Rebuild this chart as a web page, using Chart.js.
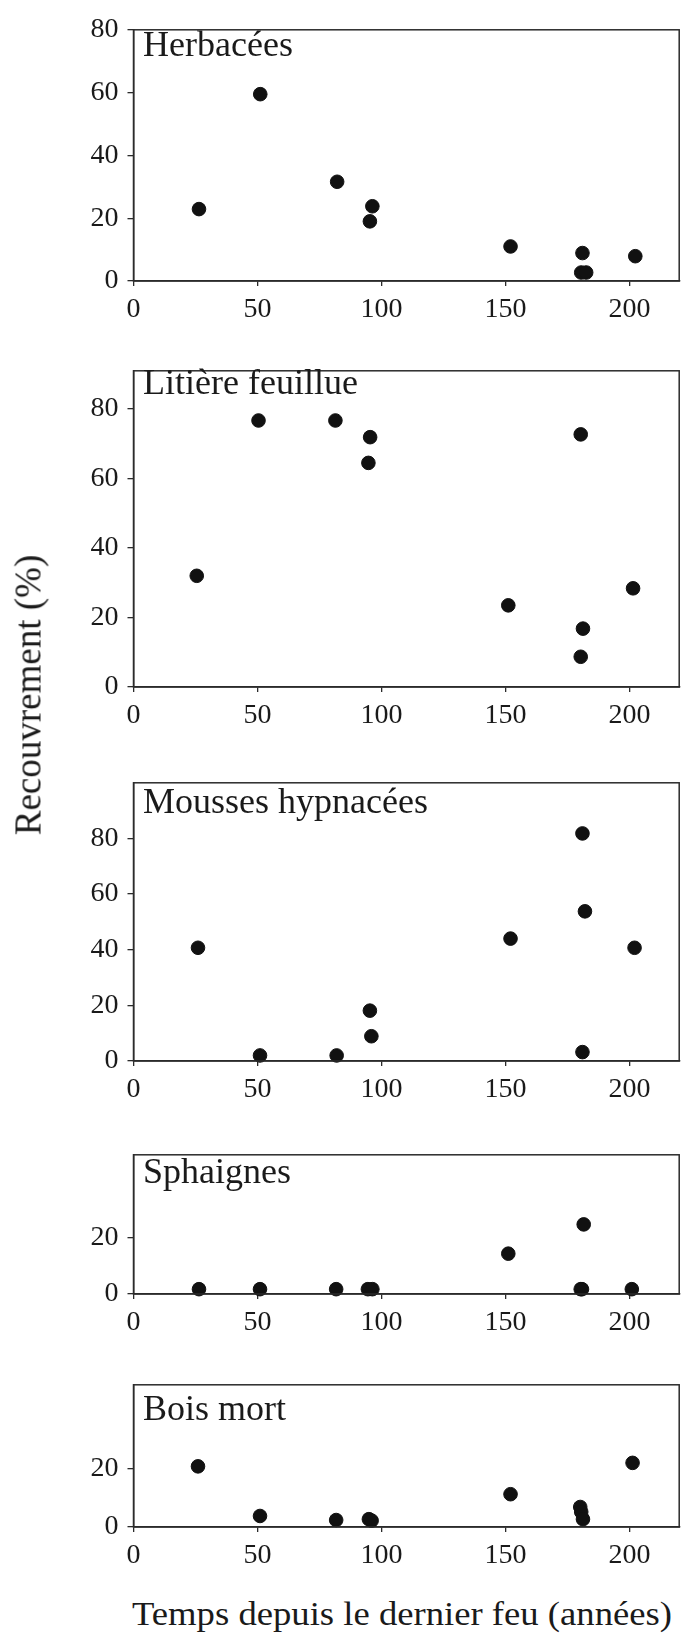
<!DOCTYPE html>
<html>
<head>
<meta charset="utf-8">
<script src="https://cdn.jsdelivr.net/npm/chart.js@4/dist/chart.umd.min.js"></script>
<style>
html,body{margin:0;padding:0;background:#fff;}
#wrap{position:relative;width:687px;height:1638px;overflow:hidden;background:#fff;}
#wrap canvas{position:absolute;left:0;}
.lbl{position:absolute;font-family:"Liberation Serif","Times New Roman",serif;color:#1a1a1a;white-space:nowrap;line-height:1;}
</style>
</head>
<body>
<div id="wrap"></div>
<script>
// ---------- data ----------
const panelTitles = ["Herbacées", "Litière feuillue", "Mousses hypnacées", "Sphaignes", "Bois mort"];
const xAxisTitle = "Temps depuis le dernier feu (années)";
const yAxisTitle = "Recouvrement (%)";

const xTicks = [0, 50, 100, 150, 200];
const yTicksTall = [0, 20, 40, 60, 80];
const yTicksShort = [0, 20];

const herbX = [26.4, 51.1, 82.1, 96.3, 95.3, 152, 181, 180.5, 182.5, 202.3];
const herbY = [22.9, 59.5, 31.6, 23.8, 19.0, 11.0, 8.9, 2.7, 2.7, 7.9];

const litX = [25.5, 50.4, 81.4, 95.4, 94.7, 151.1, 180.3, 181.2, 180.3, 201.4];
const litY = [32.0, 76.7, 76.7, 71.9, 64.5, 23.5, 72.7, 16.8, 8.7, 28.4];

const mousX = [26.0, 51.0, 81.9, 95.3, 95.9, 152, 181, 182, 181, 202];
const mousY = [40.7, 2.0, 2.0, 18.1, 8.9, 44.0, 81.8, 53.8, 3.2, 40.7];

const sphX = [26.4, 51.0, 81.7, 94.5, 96.3, 151.1, 181.5, 180.3, 180.8, 200.9];
const sphY = [1.7, 1.7, 1.7, 1.7, 1.7, 14.2, 24.5, 1.7, 1.7, 1.7];

const boisX = [26.0, 51, 81.7, 94.9, 96, 152, 180.1, 180.5, 181.2, 201.2];
const boisY = [20.9, 3.8, 2.4, 2.7, 2.2, 11.3, 6.9, 5.2, 2.7, 22.1];

const xMax = 220;
const yMaxes = [80, 91, 100, 49, 49];

// ---------- layout ----------
const layoutBoxes = [
  {top: 24, bottom: 281, titleBase: 56},
  {top: 365, bottom: 687, titleBase: 394},
  {top: 777, bottom: 1061, titleBase: 813},
  {top: 1149, bottom: 1294, titleBase: 1183},
  {top: 1379, bottom: 1527, titleBase: 1420}
];
const plotLeft = 133.5, plotRight = 685;
const FONT = '"Liberation Serif","Times New Roman",serif';
const INK = '#1a1a1a', AXIS = '#2b2b2b';

const panels = [
  {xs: herbX, ys: herbY, yTicks: yTicksTall},
  {xs: litX, ys: litY, yTicks: yTicksTall},
  {xs: mousX, ys: mousY, yTicks: yTicksTall},
  {xs: sphX, ys: sphY, yTicks: yTicksShort},
  {xs: boisX, ys: boisY, yTicks: yTicksShort}
];

const boxPlugin = {
  id: 'box',
  afterDraw(chart) {
    const a = chart.chartArea, ctx = chart.ctx;
    ctx.save();
    ctx.strokeStyle = AXIS;
    ctx.lineWidth = 1.5;
    ctx.strokeRect(a.left, a.top, a.right - a.left, a.bottom - a.top);
    ctx.restore();
  }
};

const wrap = document.getElementById('wrap');
const PADTOP = 20, XAXH = 50;

panels.forEach((p, i) => {
  const L = layoutBoxes[i];
  const h = (L.bottom - L.top) + PADTOP + XAXH;
  const cv = document.createElement('canvas');
  cv.width = 687; cv.height = h;
  cv.style.width = '687px'; cv.style.height = h + 'px';
  cv.style.top = (L.top - PADTOP) + 'px';
  wrap.appendChild(cv);

  const pts = p.xs.map((x, k) => ({x: x, y: p.ys[k]}));
  const yt = p.yTicks;
  new Chart(cv.getContext('2d'), {
    type: 'scatter',
    data: {datasets: [{
      data: pts,
      pointRadius: 6.8,
      pointBackgroundColor: '#111',
      pointBorderColor: '#111',
      pointBorderWidth: 1,
      clip: false
    }]},
    options: {
      responsive: false,
      animation: false,
      devicePixelRatio: 1,
      layout: {padding: {top: PADTOP, right: 687 - plotRight, left: 0, bottom: 0}},
      plugins: {legend: {display: false}, tooltip: {enabled: false}},
      scales: {
        x: {
          type: 'linear', min: 0, max: xMax,
          afterBuildTicks: a => { a.ticks = xTicks.map(v => ({value: v})); },
          afterFit: s => { s.height = XAXH; },
          grid: {drawOnChartArea: false, drawTicks: true, tickLength: 5, color: AXIS, lineWidth: 1.3},
          border: {color: AXIS, width: 1.5},
          ticks: {font: {family: FONT, size: 28}, color: INK, padding: 7, maxRotation: 0, autoSkip: false}
        },
        y: {
          type: 'linear', min: 0, max: yMaxes[i],
          afterBuildTicks: a => { a.ticks = yt.map(v => ({value: v})); },
          afterFit: s => { s.width = plotLeft; },
          grid: {drawOnChartArea: false, drawTicks: true, tickLength: 6, color: AXIS, lineWidth: 1.3},
          border: {color: AXIS, width: 1.5},
          ticks: {font: {family: FONT, size: 28}, color: INK, padding: 9, autoSkip: false}
        }
      }
    },
    plugins: [boxPlugin]
  });

  // panel title (baseline-positioned)
  const t = document.createElement('div');
  t.className = 'lbl';
  t.style.fontSize = '36px';
  t.textContent = panelTitles[i];
  t.style.left = '143px';
  t.style.top = (L.titleBase - 0.8375 * 36) + 'px';
  wrap.appendChild(t);
});

// x axis title
const xt = document.createElement('div');
xt.className = 'lbl';
xt.style.fontSize = '34px';
xt.textContent = xAxisTitle;
xt.style.left = '132px';
xt.style.top = (1625 - 0.8375 * 34) + 'px';
xt.style.transformOrigin = 'left top';
wrap.appendChild(xt);
const wNat = xt.getBoundingClientRect().width;
xt.style.transform = 'scaleX(' + (540 / wNat) + ')';

// y axis title
const yl = document.createElement('div');
yl.className = 'lbl';
yl.style.fontSize = '37px';
yl.textContent = yAxisTitle;
yl.style.left = '28px';
yl.style.top = '695px';
yl.style.transform = 'translate(-50%,-50%) rotate(-90deg)';
wrap.appendChild(yl);
</script>
</body>
</html>
